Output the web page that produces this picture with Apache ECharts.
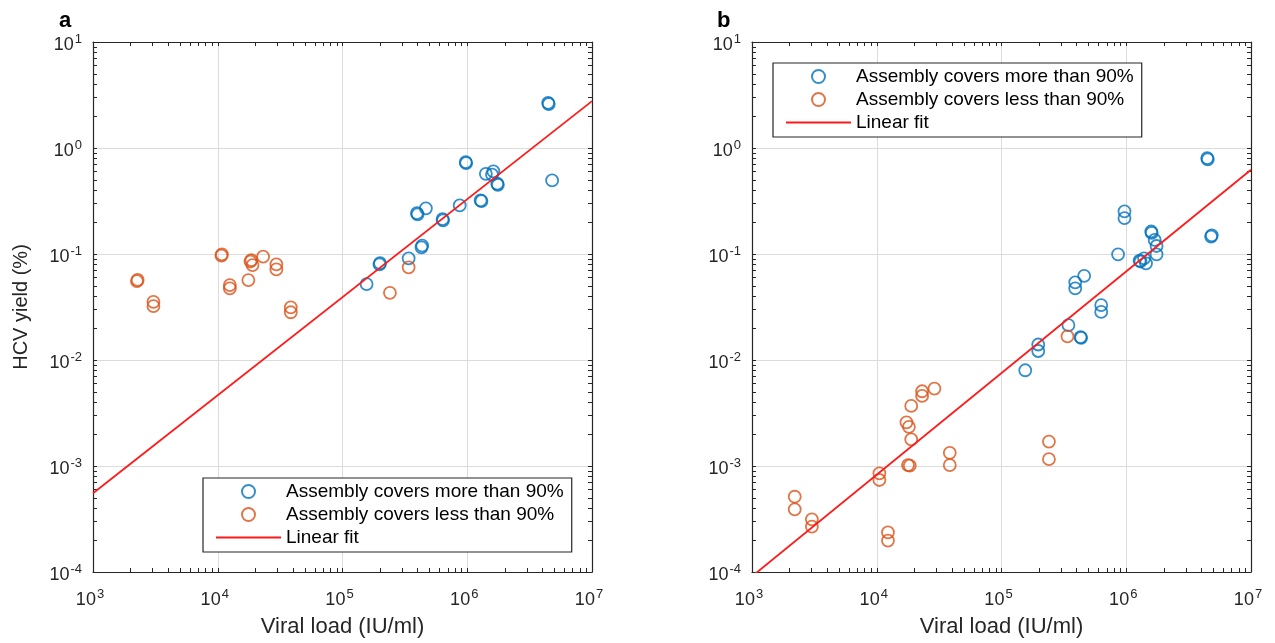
<!DOCTYPE html>
<html lang="en">
<head>
<meta charset="UTF-8">
<title>HCV yield vs viral load</title>
<script src="https://cdn.jsdelivr.net/npm/echarts@6/dist/echarts.min.js"></script>
<style>
    html, body { margin: 0; padding: 0; background: #fff; }
    #chart { width: 1275px; height: 643px; }
</style>
</head>
<body>
<div id="chart"></div>
<script type="text/javascript">
    // series names
    var nameMore = 'Assembly covers more than 90%';
    var nameLess = 'Assembly covers less than 90%';
    var nameFit = 'Linear fit';

    // panel a
    var aMoreX = [4.45e6, 4.5e6, 4.79e6, 9.72e5, 9.8e5, 1.41e6, 1.62e6, 1.58e6, 1.74e6, 1.76e6, 1.28e6, 1.3e6,
        8.7e5, 4.66e5, 3.95e5, 4.0e5, 6.34e5, 6.4e5, 4.3e5, 4.35e5, 3.39e5, 1.98e5, 2.0e5, 1.56e5];
    var aMoreY = [2.67, 2.6, 0.494, 0.737, 0.72, 0.571, 0.601, 0.56, 0.46, 0.45, 0.32, 0.315,
        0.287, 0.27, 0.243, 0.237, 0.213, 0.208, 0.1156, 0.12, 0.091, 0.0798, 0.082, 0.052];
    var aLessX = [2.25e3, 2.28e3, 3.05e3, 3.05e3, 1.07e4, 1.08e4, 1.25e4, 1.25e4, 1.76e4, 1.86e4, 1.9e4, 1.83e4,
        2.31e4, 2.95e4, 2.95e4, 3.85e4, 3.85e4, 3.39e5, 2.4e5];
    var aLessY = [0.0555, 0.057, 0.0354, 0.0322, 0.0964, 0.099, 0.0509, 0.0473, 0.0568, 0.0877, 0.0787, 0.085,
        0.0944, 0.0798, 0.0716, 0.0313, 0.0282, 0.0748, 0.043];
    var aFitX = [1e3, 1e7];
    var aFitY = [5.53e-4, 2.77];

    // panel b
    var bMoreX = [4.46e6, 4.5e6, 4.79e6, 4.85e6, 9.68e5, 9.68e5, 8.6e5, 1.585e6, 1.6e6, 1.69e6, 1.75e6, 1.75e6,
        1.28e6, 1.3e6, 1.44e6, 1.39e6, 4.6e5, 3.9e5, 3.9e5, 6.3e5, 6.3e5, 3.44e5, 4.3e5, 4.35e5, 1.97e5, 1.97e5, 1.55e5];
    var bMoreY = [0.804, 0.78, 0.146, 0.15, 0.252, 0.218, 0.0993, 0.163, 0.158, 0.1357, 0.119, 0.0993,
        0.0865, 0.085, 0.0816, 0.091, 0.0623, 0.054, 0.0473, 0.0329, 0.0284, 0.0213, 0.01645, 0.0162, 0.014, 0.01216, 0.008];
    var bLessX = [3.38e5, 2.4e5, 2.4e5, 2.9e4, 2.31e4, 2.31e4, 1.89e4, 1.73e4, 1.81e4, 1.89e4, 1.78e4, 1.84e4,
        3.85e4, 3.85e4, 1.05e4, 1.05e4, 1.23e4, 1.23e4, 2.2e3, 2.2e3, 3.02e3, 3.02e3];
    var bLessY = [0.0167, 0.0017, 0.00116, 0.00537, 0.00507, 0.00458, 0.00369, 0.00258, 0.00234, 0.00178, 0.00102, 0.00101,
        0.00133, 0.00102, 0.000853, 0.000738, 0.000237, 0.000198, 0.000513, 0.00039, 0.000314, 0.000268];
    var bFitX = [1e3, 1e7];
    var bFitY = [9.1e-5, 0.624];

    // axis ranges / minor tick positions (1..9 per decade)
    var xMin = 1e3, xMax = 1e7;
    var yMin = 1e-4, yMax = 1e1;
    function logTicks(e0, e1) {
        var arr = [];
        for (var e = e0; e < e1; e++) {
            for (var m = 1; m <= 9; m++) arr.push(m * Math.pow(10, e));
        }
        arr.push(Math.pow(10, e1));
        return arr;
    }
    var xTicks = logTicks(3, 7);
    var yTicks = logTicks(-4, 1);

    var font = 'Liberation Sans, Arial, Helvetica, sans-serif';
    var ink = '#262626';

    function zip(xs, ys) {
        var out = [];
        for (var i = 0; i < xs.length; i++) out.push([xs[i], ys[i]]);
        return out;
    }

    function powLabel(v) {
        var e = Math.round(Math.log(v) / Math.LN10);
        return '{b|10}{s|' + e + '}';
    }
    var labelRich = {
        b: { fontSize: 18, color: ink, fontFamily: font },
        s: { fontSize: 13, color: ink, fontFamily: font, padding: [0, 0, 12, 1] }
    };

    var xAxes = [], yAxes = [], grids = [];
    var lefts = [93, 752];
    for (var g = 0; g < 2; g++) {
        grids.push({ left: lefts[g], top: 42, width: 499, height: 530 });
        // main axis: labels + grid lines
        xAxes.push({
            type: 'log', gridIndex: g, min: xMin, max: xMax, position: 'bottom',
            axisLine: { show: true, lineStyle: { color: ink, width: 1.2 } },
            axisTick: { show: false },
            splitLine: { show: true, lineStyle: { color: '#dcdcdc', width: 1 } },
            axisLabel: { formatter: powLabel, rich: labelRich, margin: 16, color: ink, padding: [0, 6, 0, 0] },
            name: 'Viral load (IU/ml)', nameLocation: 'middle', nameGap: 44,
            nameTextStyle: { fontSize: 22, color: ink, fontFamily: font }
        });
        // bottom ticks
        xAxes.push({
            type: 'log', gridIndex: g, min: xMin, max: xMax, position: 'bottom',
            axisLine: { show: false }, splitLine: { show: false }, axisLabel: { show: false },
            axisTick: { show: true, inside: true, length: 4, customValues: xTicks, lineStyle: { color: ink } }
        });
        // top box edge
        xAxes.push({
            type: 'log', gridIndex: g, min: xMin, max: xMax, position: 'top',
            axisLine: { show: true, onZero: false, lineStyle: { color: ink, width: 1.2 } },
            splitLine: { show: false }, axisLabel: { show: false },
            axisTick: { show: true, inside: true, length: 4, customValues: xTicks, lineStyle: { color: ink } }
        });

        yAxes.push({
            type: 'log', gridIndex: g, min: yMin, max: yMax, position: 'left',
            axisLine: { show: true, lineStyle: { color: ink, width: 1.2 } },
            axisTick: { show: false },
            splitLine: { show: true, lineStyle: { color: '#dcdcdc', width: 1 } },
            axisLabel: { formatter: powLabel, rich: labelRich, margin: 11, color: ink, padding: [6, 0, 0, 0] },
            name: g === 0 ? 'HCV yield (%)' : '', nameLocation: 'middle', nameGap: 62,
            nameTextStyle: { fontSize: 20, color: ink, fontFamily: font }
        });
        yAxes.push({
            type: 'log', gridIndex: g, min: yMin, max: yMax, position: 'left',
            axisLine: { show: false }, splitLine: { show: false }, axisLabel: { show: false },
            axisTick: { show: true, inside: true, length: 4, customValues: yTicks, lineStyle: { color: ink } }
        });
        yAxes.push({
            type: 'log', gridIndex: g, min: yMin, max: yMax, position: 'right',
            axisLine: { show: true, onZero: false, lineStyle: { color: ink, width: 1.2 } },
            splitLine: { show: false }, axisLabel: { show: false },
            axisTick: { show: true, inside: true, length: 4, customValues: yTicks, lineStyle: { color: ink } }
        });
    }

    function scatter(name, data, color, g) {
        return {
            name: name, type: 'scatter', xAxisIndex: g * 3, yAxisIndex: g * 3,
            data: data, symbol: 'circle', symbolSize: 12,
            itemStyle: { color: 'rgba(255,255,255,0)', borderColor: color, borderWidth: 1.8 },
            emphasis: { disabled: true }
        };
    }
    function fit(data, g) {
        return {
            name: nameFit, type: 'line', xAxisIndex: g * 3, yAxisIndex: g * 3,
            data: data, symbol: 'none', clip: true,
            lineStyle: { color: '#ff1a1a', width: 1.8 }
        };
    }

    function legendAt(left, top) {
        return {
            orient: 'vertical', left: left, top: top,
            data: [nameMore, nameLess, { name: nameFit, itemStyle: { opacity: 0 } }],
            itemWidth: 65, itemHeight: 13, itemGap: 4, itemTextGap: 7,
            padding: [4, 8, 5, 12],
            borderColor: ink, borderWidth: 1.2, backgroundColor: '#fff',
            selectedMode: false,
            textStyle: { fontSize: 19, color: '#000', fontFamily: font, lineHeight: 19 }
        };
    }

    var chart = echarts.init(document.getElementById('chart'));
    var option = {
        backgroundColor: '#fff',
        animation: false,
        textStyle: { fontFamily: font },
        title: [
            { text: 'a', left: 54, top: 5, textStyle: { fontSize: 22, fontWeight: 'bold', color: '#000', fontFamily: font } },
            { text: 'b', left: 712, top: 5, textStyle: { fontSize: 22, fontWeight: 'bold', color: '#000', fontFamily: font } }
        ],
        grid: grids,
        xAxis: xAxes,
        yAxis: yAxes,
        legend: [legendAt(203, 478), legendAt(773, 63)],
        series: [
            scatter(nameMore, zip(aMoreX, aMoreY), '#0072bd', 0),
            scatter(nameLess, zip(aLessX, aLessY), '#d95319', 0),
            fit(zip(aFitX, aFitY), 0),
            scatter(nameMore, zip(bMoreX, bMoreY), '#0072bd', 1),
            scatter(nameLess, zip(bLessX, bLessY), '#d95319', 1),
            fit(zip(bFitX, bFitY), 1)
        ]
    };
    chart.setOption(option);
</script>
</body>
</html>
